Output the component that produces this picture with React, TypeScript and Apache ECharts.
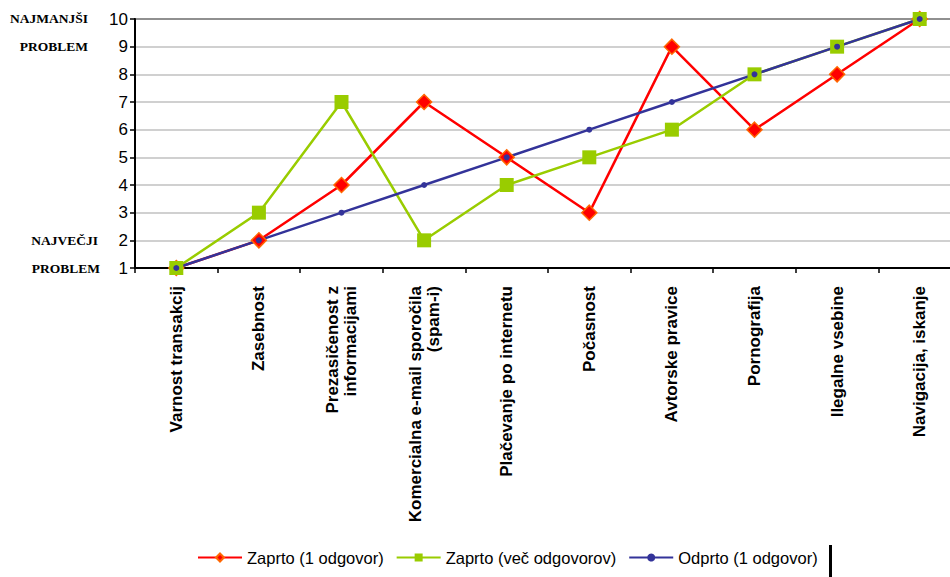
import React, { useEffect, useRef } from "react";
import * as echarts from "echarts";

const categories = [
  "Varnost transakcij",
  "Zasebnost",
  "Prezasičenost z\ninformacijami",
  "Komercialna e-mail sporočila\n(spam-i)",
  "Plačevanje po internetu",
  "Počasnost",
  "Avtorske pravice",
  "Pornografija",
  "Ilegalne vsebine",
  "Navigacija, iskanje",
];
const zaprto1 = [1, 2, 4, 7, 5, 3, 9, 6, 8, 10];
const zaprtoVec = [1, 3, 7, 2, 4, 5, 6, 8, 9, 10];
const odprto1 = [1, 2, 3, 4, 5, 6, 7, 8, 9, 10];
const seriesNames = ["Zaprto (1 odgovor)", "Zaprto (več odgovorov)", "Odprto (1 odgovor)"];

export default function App() {
  const ref = useRef<HTMLDivElement>(null);
  useEffect(() => {
    document.body.style.margin = "0";
    const chart = echarts.init(ref.current!, null, { renderer: "svg" });
    const serif = "Liberation Serif";
    const sans = "Liberation Sans";
    chart.setOption({
      animation: false,
      backgroundColor: "#fff",
      grid: {
        left: 135,
        top: 19,
        width: 826,
        height: 249,
        outerBoundsMode: "none",
        containLabel: false,
        show: true,
        borderColor: "#000",
        borderWidth: 2,
        backgroundColor: "transparent",
      },
      legend: {
        bottom: 6,
        left: 192,
        itemWidth: 44,
        itemHeight: 10,
        itemGap: 12,
        textStyle: { fontFamily: sans, fontSize: 16.5, color: "#000" },
        data: seriesNames,
      },
      xAxis: {
        type: "category",
        data: categories,
        boundaryGap: true,
        axisLine: { lineStyle: { color: "#000", width: 2 } },
        axisTick: { show: true, length: 5, lineStyle: { color: "#000", width: 1.5 } },
        axisLabel: {
          interval: 0,
          rotate: 90,
          margin: 18,
          fontFamily: sans,
          fontWeight: "bold",
          fontSize: 17,
          color: "#000",
          lineHeight: 18,
        },
        splitLine: { show: false },
      },
      yAxis: {
        type: "value",
        min: 1,
        max: 10,
        interval: 1,
        axisLine: { show: true, lineStyle: { color: "#000", width: 2 } },
        axisTick: { show: true, length: 5, lineStyle: { color: "#000", width: 1.5 } },
        axisLabel: { fontFamily: sans, fontSize: 17, color: "#000", margin: 7 },
        splitLine: { lineStyle: { color: "#c0c0c0", width: 1.5 } },
      },
      graphic: [
        { type: "text", right: 862, top: 11, style: { text: "NAJMANJŠI", fontFamily: serif, fontWeight: "bold", fontSize: 13.5, fill: "#000", textAlign: "right" } },
        { type: "text", right: 862, top: 39, style: { text: "PROBLEM", fontFamily: serif, fontWeight: "bold", fontSize: 13.5, fill: "#000", textAlign: "right" } },
        { type: "text", right: 852, top: 233, style: { text: "NAJVEČJI", fontFamily: serif, fontWeight: "bold", fontSize: 13.5, fill: "#000", textAlign: "right" } },
        { type: "text", right: 850, top: 261, style: { text: "PROBLEM", fontFamily: serif, fontWeight: "bold", fontSize: 13.5, fill: "#000", textAlign: "right" } },
        { type: "rect", left: 829, top: 545, shape: { width: 3, height: 32 }, style: { fill: "#000" } },
      ],
      series: [
        {
          name: seriesNames[0],
          type: "line",
          data: zaprto1,
          symbol: "diamond",
          symbolSize: 15,
          lineStyle: { color: "#ff0000", width: 2.5 },
          itemStyle: { color: "#ff0000", borderColor: "#ff6600", borderWidth: 1.5 },
        },
        {
          name: seriesNames[1],
          type: "line",
          data: zaprtoVec,
          symbol: "rect",
          symbolSize: 14,
          lineStyle: { color: "#99cc00", width: 2.5 },
          itemStyle: { color: "#99cc00" },
        },
        {
          name: seriesNames[2],
          type: "line",
          data: odprto1,
          symbol: "circle",
          symbolSize: 6,
          lineStyle: { color: "#333399", width: 2.5 },
          itemStyle: { color: "#333399" },
        },
      ],
    });
    return () => chart.dispose();
  }, []);
  return <div ref={ref} style={{ width: 950, height: 577 }} />;
}
